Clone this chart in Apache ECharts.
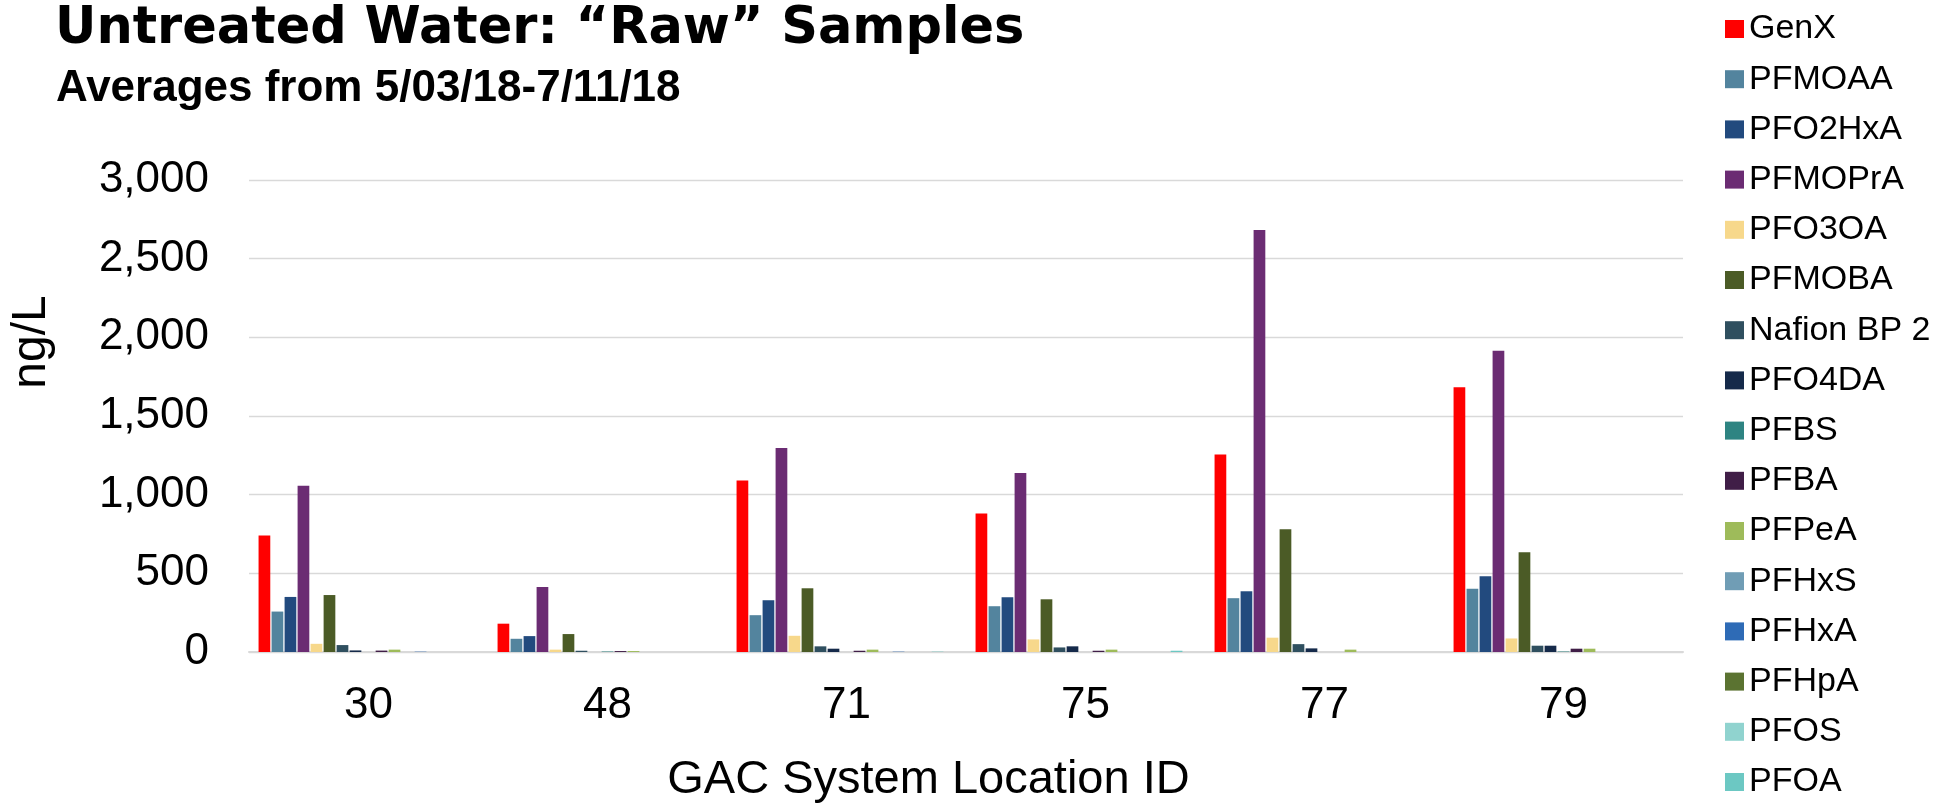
<!DOCTYPE html>
<html>
<head>
<meta charset="utf-8">
<script src="https://cdn.jsdelivr.net/npm/echarts@6/dist/echarts.min.js"></script>
<style>
html,body{margin:0;padding:0;background:#fff;}
#chart{width:1956px;height:809px;}
</style>
</head>
<body>
<div id="chart"></div>
<script>
// ---- data ----
const categories = ['30', '48', '71', '75', '77', '79'];
const seriesNames = ['GenX', 'PFMOAA', 'PFO2HxA', 'PFMOPrA', 'PFO3OA', 'PFMOBA', 'Nafion BP 2', 'PFO4DA',
  'PFBS', 'PFBA', 'PFPeA', 'PFHxS', 'PFHxA', 'PFHpA', 'PFOS', 'PFOA'];
const GenX      = [740, 180, 1090, 881, 1256, 1682];
const PFMOAA    = [257, 84, 234, 291, 342, 402];
const PFO2HxA   = [350, 101, 329, 348, 386, 481];
const PFMOPrA   = [1056, 413, 1297, 1138, 2682, 1914];
const PFO3OA    = [52, 15, 103, 80, 91, 86];
const PFMOBA    = [362, 114, 405, 335, 780, 634];
const NafionBP2 = [44, 8, 36, 29, 50, 40];
const PFO4DA    = [10, 0, 21, 36, 23, 40];
const PFBS      = [0, 3, 0, 0, 0, 3];
const PFBA      = [9, 6, 8, 8, 0, 21];
const PFPeA     = [15, 6, 15, 15, 15, 21];
const PFHxS     = [0, 0, 0, 0, 0, 0];
const PFHxA     = [2, 0, 2, 0, 0, 0];
const PFHpA     = [0, 0, 0, 0, 0, 0];
const PFOS      = [0, 0, 0, 0, 0, 0];
const PFOA      = [0, 0, 2, 8, 0, 0];
const yTicks = [0, 500, 1000, 1500, 2000, 2500, 3000];

const seriesData = [GenX, PFMOAA, PFO2HxA, PFMOPrA, PFO3OA, PFMOBA, NafionBP2, PFO4DA,
  PFBS, PFBA, PFPeA, PFHxS, PFHxA, PFHpA, PFOS, PFOA];
const colors = ['#FF0000', '#53849E', '#224A7E', '#6B2C73', '#F7D88B', '#4B5B26', '#2F4F5F', '#152A4A',
  '#2E8482', '#401E47', '#9EBB5A', '#709DB5', '#2E6BB6', '#5B7331', '#90D3CF', '#6CC8C3'];

const FONT = "'Liberation Sans', Arial, sans-serif";

const series = seriesNames.map((n, i) => ({
  name: n,
  type: 'bar',
  data: seriesData[i],
  itemStyle: { color: colors[i] },
  barGap: '11%',
  barCategoryGap: '8%'
}));
// one further series of the original chart is cut off below the picture (no visible bars / legend entry);
// it only keeps the slot spacing of the group
series.push({ name: 'hidden', type: 'bar', data: [], barGap: '11%', barCategoryGap: '8%' });

const chart = echarts.init(document.getElementById('chart'), null, { renderer: 'canvas' });
chart.setOption({
  animation: false,
  backgroundColor: '#ffffff',
  title: [
    { text: 'Untreated Water: \u201CRaw\u201D Samples', left: 50, top: -1,
      textStyle: { fontFamily: "'DejaVu Sans', sans-serif", fontWeight: 'bold', fontSize: 51, color: '#000' } },
    { text: 'Averages from 5/03/18-7/11/18', left: 51, top: 62,
      textStyle: { fontFamily: FONT, fontWeight: 'bold', fontSize: 44, color: '#000' } }
  ],
  legend: {
    data: seriesNames,
    orient: 'vertical',
    left: 1720,
    top: 7,
    itemWidth: 19,
    itemHeight: 18,
    itemGap: 16.2,
    icon: 'rect',
    textStyle: { fontFamily: FONT, fontSize: 34, color: '#000' }
  },
  grid: { left: 249, right: 273, top: 180, bottom: 155, containLabel: false },
  xAxis: {
    type: 'category',
    data: categories,
    name: 'GAC System Location ID',
    nameLocation: 'middle',
    nameGap: 105,
    nameTextStyle: { fontFamily: FONT, fontSize: 47, color: '#000', padding: [0, 75, 0, 0] },
    axisLine: { lineStyle: { color: '#D9D9D9', width: 2 } },
    axisTick: { show: false },
    axisLabel: { fontFamily: FONT, fontSize: 44, color: '#000', margin: 32 }
  },
  yAxis: {
    type: 'value',
    min: yTicks[0],
    max: yTicks[yTicks.length - 1],
    interval: yTicks[1] - yTicks[0],
    name: 'ng/L',
    nameLocation: 'middle',
    nameGap: 193,
    nameTextStyle: { fontFamily: FONT, fontSize: 48, color: '#000', padding: [0, 0, 0, 148] },
    axisLine: { show: false },
    axisTick: { show: false },
    splitLine: { lineStyle: { color: '#D9D9D9', width: 1.3 } },
    axisLabel: {
      fontFamily: FONT, fontSize: 44, color: '#000', margin: 40,
      formatter: v => v.toLocaleString('en-US')
    }
  },
  series: series
});
</script>
</body>
</html>
